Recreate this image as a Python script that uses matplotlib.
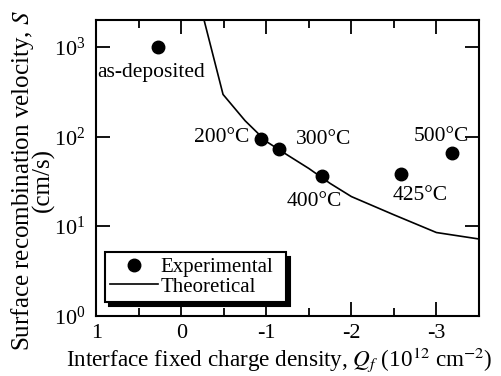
import matplotlib
matplotlib.use("Agg")
import matplotlib.pyplot as plt
from matplotlib.ticker import FixedLocator, LogFormatterMathtext, NullLocator

plt.rcParams['font.family'] = 'Liberation Serif'
plt.rcParams['mathtext.fontset'] = 'stix'

# Experimental points
exp_q = [0.27, -0.94, -1.15, -1.66, -2.58, -3.18]
exp_s = [1000, 93, 72, 36, 38, 66]
exp_labels = ["as-deposited", "200°C", "300°C", "400°C", "425°C", "500°C"]
label_offsets = [(-7, -26), (-40, 2), (44, 10), (-8, -25), (19, -21), (-10, 16)]

# Theoretical curve
theo_q = [-0.25, -0.49, -0.75, -1.0, -1.25, -1.5, -1.75, -2.0, -2.5, -3.0, -3.5]
theo_s = [2300, 295, 150, 88, 62, 44, 30, 21.4, 13.4, 8.5, 7.2]

fig = plt.figure(figsize=(5.02, 3.76), dpi=100)
ax = fig.add_axes([0.192, 0.160, 0.762, 0.787])

ax.plot(theo_q, theo_s, color='black', lw=1.2, label='Theoretical')
ax.plot(exp_q, exp_s, 'o', color='black', ms=9, label='Experimental')

for q, s, lab, off in zip(exp_q, exp_s, exp_labels, label_offsets):
    ax.annotate(lab, (q, s), xytext=off, textcoords='offset pixels',
                ha='center', va='center', fontsize=15.5)

ax.set_yscale('log')
ax.set_xlim(1, -3.5)
ax.set_ylim(1, 2000)

ax.xaxis.set_major_locator(FixedLocator([1, 0, -1, -2, -3]))
ax.xaxis.set_minor_locator(FixedLocator([0.5, -0.5, -1.5, -2.5]))
ax.set_xticklabels(['1', '0', '-1', '-2', '-3'])
ax.yaxis.set_major_locator(FixedLocator([1, 10, 100, 1000]))
ax.yaxis.set_major_formatter(LogFormatterMathtext())
ax.yaxis.set_minor_locator(NullLocator())

ax.tick_params(which='both', direction='in', top=True, right=True, width=1.3, labelsize=16)
ax.tick_params(which='major', length=10)
ax.tick_params(which='minor', length=6)
ax.tick_params(axis='x', which='major', pad=6)
ax.tick_params(axis='y', which='major', pad=8)
for sp in ax.spines.values():
    sp.set_linewidth(1.5)

ax.set_xlabel(r"Interface fixed charge density, $Q_f$ (10$^{12}$ cm$^{-2}$)", fontsize=16.7)
ax.xaxis.set_label_coords(0.477, -0.1)
ax.set_ylabel("Surface recombination velocity, $S$\n(cm/s)", fontsize=18,
              linespacing=0.8)
ax.yaxis.set_label_coords(-0.108, 0.459)

handles, labels = ax.get_legend_handles_labels()
leg = ax.legend(handles[::-1], labels[::-1], loc='lower left',
                bbox_to_anchor=(0.209, 0.197, 0.361, 0.144), bbox_transform=fig.transFigure,
                mode='expand', borderaxespad=0, fancybox=False, framealpha=1,
                edgecolor='black', fontsize=15, handlelength=2.3, handletextpad=0.1,
                labelspacing=0.0, borderpad=0.25,
                shadow={'ox': 3, 'oy': -3, 'facecolor': 'black', 'edgecolor': 'black', 'alpha': 1})
leg.get_frame().set_linewidth(1.5)

fig.savefig("out.png", dpi=100)
